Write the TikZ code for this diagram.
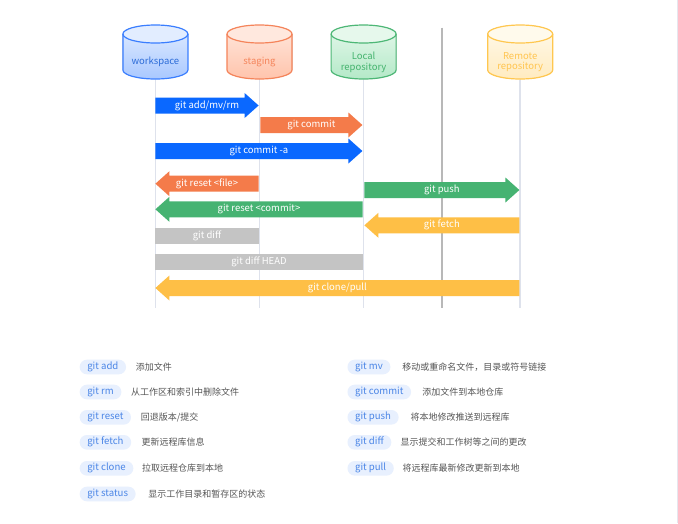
\documentclass[tikz,border=0pt]{standalone}
\usepackage{fontspec}
\setmainfont{Noto Sans CJK SC}
\usetikzlibrary{positioning}
\definecolor{blueA}{HTML}{0A68FF}
\definecolor{orangeA}{HTML}{F47B4A}
\definecolor{greenA}{HTML}{46B372}
\definecolor{yellowA}{HTML}{FEBF46}
\definecolor{grayA}{HTML}{C4C4C4}
\definecolor{lanec}{HTML}{DEE2EC}
\definecolor{divc}{HTML}{B8B8B8}
\definecolor{edgec}{HTML}{E6E6EE}
\definecolor{pillbg}{HTML}{E8F0FE}
\definecolor{pilltx}{HTML}{4A85E6}
\definecolor{desctx}{HTML}{555555}
\definecolor{wsB}{HTML}{3A7EFF}\definecolor{wsT}{HTML}{E2EDFF}\definecolor{wsD}{HTML}{A9C8FF}\definecolor{wsX}{HTML}{2C6CD8}
\definecolor{stB}{HTML}{F5845A}\definecolor{stT}{HTML}{FFE8DE}\definecolor{stD}{HTML}{FFC4AC}\definecolor{stX}{HTML}{F5845A}
\definecolor{lrB}{HTML}{4DB776}\definecolor{lrT}{HTML}{E6F8EC}\definecolor{lrD}{HTML}{B4E9C8}\definecolor{lrX}{HTML}{45B36E}
\definecolor{rrB}{HTML}{FFC74F}\definecolor{rrT}{HTML}{FFFAEC}\definecolor{rrD}{HTML}{FFEBC0}\definecolor{rrX}{HTML}{FFC550}
% cylinder: name, cx, border, top, bottom, text colour, label
\newcommand\mycyl[7]{%
  \fill[top color=#4,bottom color=#5] ({#2-32.5},-34) -- ({#2-32.5},-70) arc (180:360:32.5pt and 9pt) -- ({#2+32.5},-34) arc (0:180:32.5pt and 9pt) -- cycle;
  \fill[#4] (#2,-34) ellipse (32.5pt and 9pt);
  \draw[#3,line width=1.2pt] ({#2-32.5},-34) -- ({#2-32.5},-70) arc (180:360:32.5pt and 9pt) -- ({#2+32.5},-34) arc (0:180:32.5pt and 9pt) -- cycle;
  \draw[#3,line width=1.2pt] ({#2-32.5},-34) arc (180:360:32.5pt and 9pt);
  \node[cyllabel,text=#6] (#1) at (#2,-62.3) {#7};
  \coordinate (#1-b) at (#2,-79.5);
  \coordinate (#1-e) at (#2,-307.5);}
% right arrow: name, x tail, x tip, y, colour, text
\newcommand\rarr[6]{%
  \fill[#5] (#2,{-#4+8}) -- ({#3-14},{-#4+8}) -- ({#3-14},{-#4+12.5}) -- (#3,-#4) -- ({#3-14},{-#4-12.5}) -- ({#3-14},{-#4-8}) -- (#2,{-#4-8}) -- cycle;
  \node[arrtext] (#1) at ({(#2+#3)/2},-#4) {#6};}
% left arrow: name, x tip, x tail, y, colour, text
\newcommand\larr[6]{%
  \fill[#5] (#3,{-#4+8}) -- ({#2+14},{-#4+8}) -- ({#2+14},{-#4+12.5}) -- (#2,-#4) -- ({#2+14},{-#4-12.5}) -- ({#2+14},{-#4-8}) -- (#3,{-#4-8}) -- cycle;
  \node[arrtext] (#1) at ({(#2+#3)/2},-#4) {#6};}
% bar: name, x1, x2, y, colour, text
\newcommand\gbar[6]{%
  \fill[#5] (#2,{-#4+8.2}) rectangle (#3,{-#4-8.2});
  \node[arrtext] (#1) at ({(#2+#3)/2},-#4) {#6};}
\begin{document}
\begin{tikzpicture}[x=1pt,y=1pt,
  lane/.style={draw=lanec,line width=1.6pt},
  arrtext/.style={text=white,font=\fontsize{9.5}{11}\selectfont,inner sep=0pt},
  cyllabel/.style={font=\fontsize{9.5}{10.5}\selectfont,align=center,inner sep=0pt},
  pill/.style={fill=pillbg,text=pilltx,rounded corners=7.2pt,minimum height=14.6pt,inner xsep=7.6pt,inner ysep=0pt,font=\fontsize{9.6}{12}\selectfont,anchor=west},
  desc/.style={text=desctx,inner sep=0pt,font=\fontsize{9}{11}\selectfont,anchor=west}]
\useasboundingbox (0,0) rectangle (678,-523);
\fill[white] (0,0) rectangle (678,-523);
\coordinate (rt) at (677.2,0);
\coordinate (rb) at (677.2,-523);
\draw[edgec,line width=1.2pt] (rt) -- (rb);
% cylinders
\mycyl{ws}{155.4}{wsB}{wsT}{wsD}{wsX}{workspace}
\mycyl{st}{259.5}{stB}{stT}{stD}{stX}{staging}
\mycyl{lr}{363.6}{lrB}{lrT}{lrD}{lrX}{Local\\repository}
\mycyl{rr}{520.2}{rrB}{rrT}{rrD}{rrX}{Remote\\repository}
% lanes
\draw[lane] (ws-b) -- (ws-e);
\draw[lane] (st-b) -- (st-e);
\draw[lane] (lr-b) -- (lr-e);
\draw[lane] (rr-b) -- (rr-e);
\coordinate (dv-t) at (441.7,-27.5);
\coordinate (dv-b) at (441.7,-307.5);
\draw[divc,line width=1.6pt] (dv-t) -- (dv-b);
% arrows
\rarr{a1}{155.4}{258.6}{105.5}{blueA}{git add/mv/rm}
\rarr{a2}{260.4}{362.4}{125}{orangeA}{git commit}
\rarr{a3}{155.4}{362.4}{151}{blueA}{git commit -a}
\larr{a4}{155.4}{258.6}{183.7}{orangeA}{git reset <file>}
\rarr{a5}{364.4}{519.4}{190}{greenA}{git push}
\larr{a6}{155.4}{362.6}{209.3}{greenA}{git reset <commit>}
\larr{a7}{364.4}{519.4}{225.3}{yellowA}{git fetch}
\gbar{a8}{155.4}{258.6}{235.8}{grayA}{git diff}
\gbar{a9}{155.4}{362.6}{261.7}{grayA}{git diff HEAD}
\larr{a10}{155.4}{519.4}{288}{yellowA}{git clone/pull}
% legend left
\node[pill] (p1) at (79.5,-367) {git add};
\node[desc,right=9.5pt of p1] (d1) {添加文件};
\node[pill] (p2) at (79.5,-392) {git rm};
\node[desc,right=9.5pt of p2] (d2) {从工作区和索引中删除文件};
\node[pill] (p3) at (79.5,-417.3) {git reset};
\node[desc,right=9.5pt of p3] (d3) {回退版本/提交};
\node[pill] (p4) at (79.5,-442.3) {git fetch};
\node[desc,right=10pt of p4] (d4) {更新远程库信息};
\node[pill] (p5) at (79.5,-468.3) {git clone};
\node[desc,right=8.5pt of p5] (d5) {拉取远程仓库到本地};
\node[pill] (p6) at (79.5,-494) {git status};
\node[desc,right=12.5pt of p6] (d6) {显示工作目录和暂存区的状态};
% legend right
\node[pill] (q1) at (347.3,-367) {git mv};
\node[desc,right=11.5pt of q1] (e1) {移动或重命名文件，目录或符号链接};
\node[pill] (q2) at (347.3,-392) {git commit};
\node[desc,right=11pt of q2] (e2) {添加文件到本地仓库};
\node[pill] (q3) at (347.3,-417.3) {git push};
\node[desc,right=11.5pt of q3] (e3) {将本地修改推送到远程库};
\node[pill] (q4) at (347.3,-442.3) {git diff};
\node[desc,right=9pt of q4] (e4) {显示提交和工作树等之间的更改};
\node[pill] (q5) at (347.3,-468.3) {git pull};
\node[desc,right=8.5pt of q5] (e5) {将远程库最新修改更新到本地};
\end{tikzpicture}
\end{document}
